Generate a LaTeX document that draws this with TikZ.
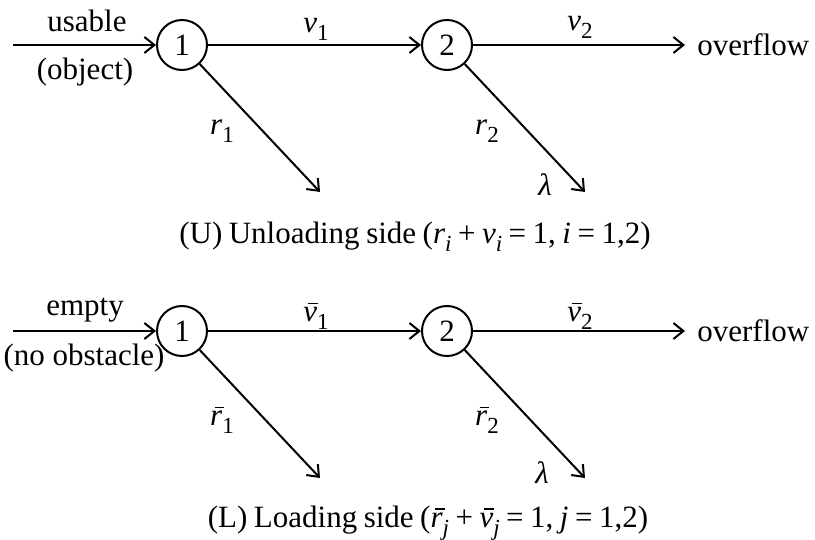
\documentclass[tikz,border=0pt]{standalone}
\usepackage{fontspec}
\setmainfont{Liberation Serif}
\usetikzlibrary{arrows.meta}
\newcommand\sbs[1]{\raisebox{-0.55ex}{\fontsize{11.5}{11.5}\selectfont #1}}
\newcommand\iv[1]{\textit{#1}}
\newcommand\bv[1]{\leavevmode\rlap{\kern0.14em\rule[0.56em]{0.32em}{0.05em}}\iv{#1}}
\newcommand\capfont{\fontsize{15.5}{16}\selectfont\spaceskip=0.21em plus 0.05em\relax}
\tikzset{
  state/.style={draw, circle, line width=1pt, minimum size=25pt, inner sep=0pt, font=\fontsize{15.5}{16}\selectfont},
  flow/.style={line width=1pt, -{Straight Barb[length=5pt, width=8pt, line width=1pt]}},
  lbl/.style={font=\fontsize{15.5}{16}\selectfont, inner sep=0pt},
  captxt/.style={font=\capfont, inner sep=0pt}
}
\begin{document}
\begin{tikzpicture}[x=0.5pt, y=-0.5pt]
\useasboundingbox (0,0) rectangle (815,540);
% ---------- Unloading side ----------
\coordinate (uin) at (13,45);
\node[state] (u1) at (182,45) {1};
\node[state] (u2) at (447,45) {2};
\node[lbl, anchor=west] (uof) at (697,45) {overflow};
\coordinate (ud1) at (320,192);
\coordinate (ud2) at (585,192);
\draw[flow] (uin) -- (u1);
\draw[flow] (u1) -- (u2);
\draw[flow] (u2) -- (uof.west -| 685,45);
\draw[flow] (u1.-47) -- (ud1);
\draw[flow] (u2.-47) -- (ud2);
\node[lbl] (ut1) at (87,21) {usable};
\node[lbl] (ut2) at (85,72) {(object)};
\node[lbl] (uv1) at (316,29) {\iv{v}\sbs{1}};
\node[lbl] (uv2) at (580,27) {\iv{v}\sbs{2}};
\node[lbl] (ur1) at (222,131) {\iv{r}\sbs{1}};
\node[lbl] (ur2) at (487,131) {\iv{r}\sbs{2}};
\node[lbl] (ul) at (545,185) {\iv{λ}};
\node[captxt] (ucap) at (415,237) {(U) Unloading side (\iv{r}\sbs{\iv{i}} + \iv{v}\sbs{\iv{i}} = 1, \iv{i} = 1,2)};
% ---------- Loading side ----------
\coordinate (lin) at (13,331);
\node[state] (l1) at (182,331) {1};
\node[state] (l2) at (447,331) {2};
\node[lbl, anchor=west] (lof) at (697,331) {overflow};
\coordinate (ld1) at (320,478);
\coordinate (ld2) at (585,478);
\draw[flow] (lin) -- (l1);
\draw[flow] (l1) -- (l2);
\draw[flow] (l2) -- (lof.west -| 685,331);
\draw[flow] (l1.-47) -- (ld1);
\draw[flow] (l2.-47) -- (ld2);
\node[lbl] (lt1) at (85,310) {empty};
\node[lbl] (lt2) at (84,358) {(no obstacle)};
\node[lbl] (lv1) at (316,316) {\bv{v}\sbs{1}};
\node[lbl] (lv2) at (580,316) {\bv{v}\sbs{2}};
\node[lbl] (lr1) at (222,420) {\bv{r}\sbs{1}};
\node[lbl] (lr2) at (487,420) {\bv{r}\sbs{2}};
\node[lbl] (ll) at (542,473) {\iv{λ}};
\node[captxt] (lcap) at (428,523) {(L) Loading side (\bv{r}\sbs{\iv{j}} + \bv{v}\sbs{\iv{j}} = 1, \iv{j} = 1,2)};
\end{tikzpicture}
\end{document}
